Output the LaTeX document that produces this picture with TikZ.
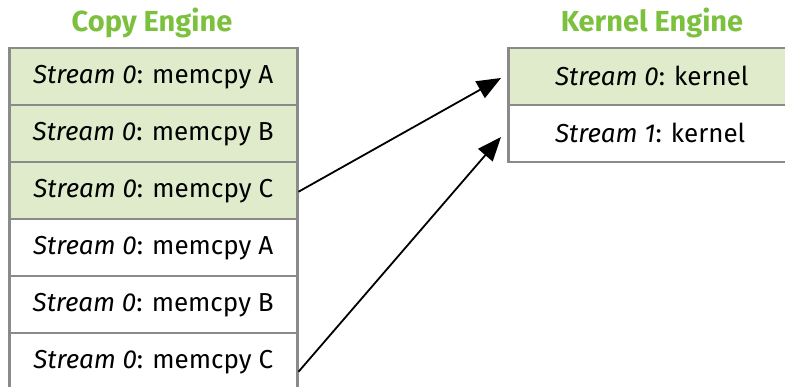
\documentclass[tikz,border=0pt]{standalone}
\usepackage{fontspec}
\setmainfont{Fira Sans}
\usetikzlibrary{arrows.meta}
\definecolor{nvgreen}{RGB}{124,193,62}
\definecolor{rowgreen}{RGB}{223,235,203}
\definecolor{bordergray}{RGB}{138,138,138}
\tikzset{
  cell/.style={draw=bordergray, line width=2.5pt, minimum height=57pt, inner sep=0pt, anchor=north west, font=\fontsize{26}{30}\selectfont},
  copycell/.style={cell, minimum width=288pt},
  active/.style={fill=rowgreen},
  idle/.style={fill=white},
  kerntext/.style={font=\fontsize{26}{30}\selectfont, anchor=west, inner sep=0pt},
  title/.style={text=nvgreen, font=\fontsize{29}{33}\selectfont\bfseries},
  link/.style={line width=1.8pt, -{Triangle[length=24pt,width=19pt]}}
}
\begin{document}
\begin{tikzpicture}[x=1pt,y=-1pt]
\useasboundingbox (0,0) rectangle (785,387);
\node[title] (ct) at (152,23) {Copy Engine};
\node[title] (kt) at (652,23) {Kernel Engine};
\node[copycell, active] (c1) at (8,47) {\textit{Stream 0}: memcpy A};
\node[copycell, active] (c2) at (8,104) {\textit{Stream 0}: memcpy B};
\node[copycell, active] (c3) at (8,161) {\textit{Stream 0}: memcpy C};
\node[copycell, idle] (c4) at (8,218) {\textit{Stream 0}: memcpy A};
\node[copycell, idle] (c5) at (8,275) {\textit{Stream 0}: memcpy B};
\node[copycell, idle] (c6) at (8,332) {\textit{Stream 0}: memcpy C};
\node[cell, minimum width=290pt, active] (k1) at (507,47) {};
\node[cell, minimum width=290pt, idle] (k2) at (507,104) {};
\node[kerntext] (k1t) at (555,75.5) {\textit{Stream 0}: kernel};
\node[kerntext] (k2t) at (555,132.5) {\textit{Stream 1}: kernel};
\coordinate (a1) at (501,78);
\coordinate (a2) at (501,137);
\draw[link] (c3.east) ++(0,1) -- (a1);
\draw[link] (c6.east) ++(0,10) -- (a2);
\end{tikzpicture}
\end{document}
